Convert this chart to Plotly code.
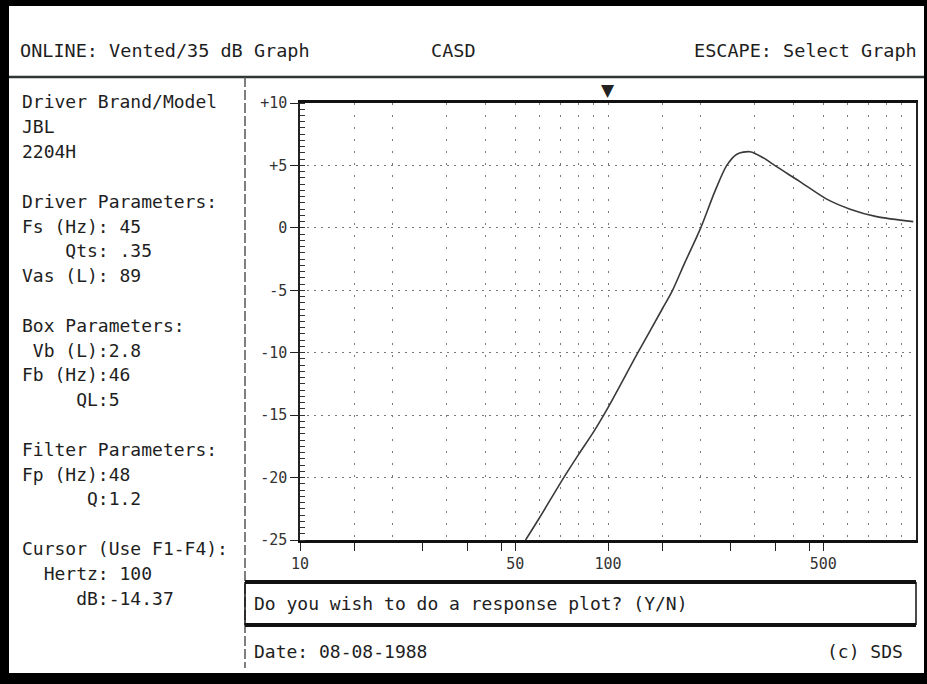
import math
import plotly.graph_objects as go

# ---------------- data ----------------
freq_hz = [54, 60, 71, 80, 90, 100, 125, 150, 162, 176, 200, 223, 243, 262, 289, 325, 343, 420, 513, 611, 745, 980]
level_db = [-25.0, -23.2, -20.2, -18.2, -16.3, -14.4, -10.0, -6.5, -5.0, -3.0, 0.0, 3.0, 5.0, 5.9, 6.1, 5.5, 5.1, 3.7, 2.3, 1.5, 0.9, 0.5]

y_tickvals = [-25, -20, -15, -10, -5, 0, 5, 10]
y_ticktext = ["-25", "-20", "-15", "-10", "-5", "0", "+5", "+10"]
x_tickvals = [10, 15, 25, 35, 45, 50, 100, 150, 250, 350, 450, 500]
x_ticktext = ["10", "", "", "", "", "50", "100", "", "", "", "", "500"]
x_gridvals = [15, 20, 30, 40, 50, 60, 70, 80, 90, 100, 150, 200, 300, 400, 500, 600, 700, 800, 900]

cursor_hz = 100

header_left = "ONLINE: Vented/35 dB Graph"
header_mid = "CASD"
header_right = "ESCAPE: Select Graph"
side_lines = [
    "Driver Brand/Model", "JBL", "2204H", "",
    "Driver Parameters:", "Fs (Hz): 45", "    Qts: .35", "Vas (L): 89", "",
    "Box Parameters:", " Vb (L):2.8", "Fb (Hz):46", "     QL:5", "",
    "Filter Parameters:", "Fp (Hz):48", "      Q:1.2", "",
    "Cursor (Use F1-F4):", "  Hertz: 100", "     dB:-14.37",
]
prompt_text = "Do you wish to do a response plot? (Y/N)"
date_text = "Date: 08-08-1988"
copy_text = "(c) SDS"

# ---------------- layout geometry (pixels) ----------------
W, H = 927, 684
PL, PR, PT, PB = 300, 916, 103, 540
FONT = "DejaVu Sans Mono"
INK = "#1e1e1e"


def px(x):
    return (x - PL) / (PR - PL)


def py(y):
    return (PB - y) / (PB - PT)


def nb(s):
    return s.replace(" ", "\u00a0")


fig = go.Figure()
fig.add_trace(go.Scatter(
    x=freq_hz, y=level_db, mode="lines",
    line=dict(color="#3a3a3a", width=1.6, shape="spline", smoothing=0.8),
    hoverinfo="skip", showlegend=False,
))

annotations = []


def txt(x, y, s, anchor="left", size=18):
    annotations.append(dict(
        x=px(x), y=py(y), xref="paper", yref="paper", text=nb(s),
        showarrow=False, xanchor=anchor, yanchor="middle",
        font=dict(family=FONT, size=size, color=INK),
    ))


txt(18, 50, header_left, size=18.5)
txt(453, 50, header_mid, anchor="center", size=18.5)
txt(919, 50, header_right, anchor="right", size=18.5)

for i, line in enumerate(side_lines):
    if line:
        txt(20, 102 + 24.8 * i, line)

txt(252, 603, prompt_text)
txt(252, 651, date_text)
txt(905, 651, copy_text, anchor="right")

# cursor marker above the plot at the cursor frequency
annotations.append(dict(
    x=math.log10(cursor_hz), y=py(90), xref="x", yref="paper", text="▼",
    showarrow=False, xanchor="center", yanchor="middle",
    font=dict(family="DejaVu Sans", size=17, color="#222"),
))

shapes = []


def rect(x0, y0, x1, y1, color="black"):
    shapes.append(dict(type="rect", xref="paper", yref="paper",
                       x0=px(x0), x1=px(x1), y0=py(y0), y1=py(y1),
                       fillcolor=color, line=dict(width=0), layer="above"))


def line(x0, y0, x1, y1, color="black", width=1, dash="solid"):
    shapes.append(dict(type="line", xref="paper", yref="paper",
                       x0=px(x0), x1=px(x1), y0=py(y0), y1=py(y1),
                       line=dict(color=color, width=width, dash=dash), layer="above"))


# outer black frame
rect(0, 0, W, 6)
rect(0, 0, 9, H)
rect(0, 673, W, H)
rect(924, 0, W, H)
# header rule and panel divider
line(9, 77, 924, 77, color="#2d3630", width=2.5)
line(245, 77, 245, 668, color="#555", width=1.5, dash="10px,3px")
# prompt box
line(245, 582, 916, 582, color="#111", width=4)
line(245, 625, 916, 625, color="#111", width=4)
line(245, 582, 245, 625, color="#111", width=1.5)
line(916, 582, 916, 625, color="#111", width=1.5)

fig.update_layout(
    width=W, height=H,
    margin=dict(l=PL, r=W - PR, t=PT, b=H - PB, autoexpand=False),
    paper_bgcolor="white", plot_bgcolor="white",
    showlegend=False,
    annotations=annotations, shapes=shapes,
    xaxis=dict(
        type="log", range=[1, 3], fixedrange=True,
        tickmode="array", tickvals=x_tickvals, ticktext=x_ticktext,
        ticks="outside", ticklen=8, tickwidth=1, tickcolor="#222",
        tickfont=dict(family=FONT, size=15, color="#333"),
        showgrid=False, zeroline=False,
        showline=True, linecolor="#111", linewidth=2.5, mirror=True,
        minor=dict(tickmode="array", tickvals=x_gridvals, ticks="",
                   showgrid=True, gridcolor="#777", gridwidth=1, griddash="2px,10px"),
    ),
    yaxis=dict(
        range=[-25, 10], fixedrange=True,
        tickmode="array", tickvals=y_tickvals, ticktext=y_ticktext,
        ticks="outside", ticklen=8, tickwidth=1, tickcolor="#222",
        tickfont=dict(family=FONT, size=15, color="#333"),
        showgrid=True, gridcolor="#777", gridwidth=1, griddash="2px,5px",
        zeroline=False,
        showline=True, linecolor="#222", linewidth=1.5, mirror=True,
        minor=dict(dtick=0.5, ticks="inside", ticklen=5, tickcolor="#333", showgrid=False),
    ),
)

fig.write_html(
    "out.html",
    config={"displayModeBar": False},
    post_script="document.body.style.margin='0';document.body.style.padding='0';document.body.style.overflow='hidden';",
)
